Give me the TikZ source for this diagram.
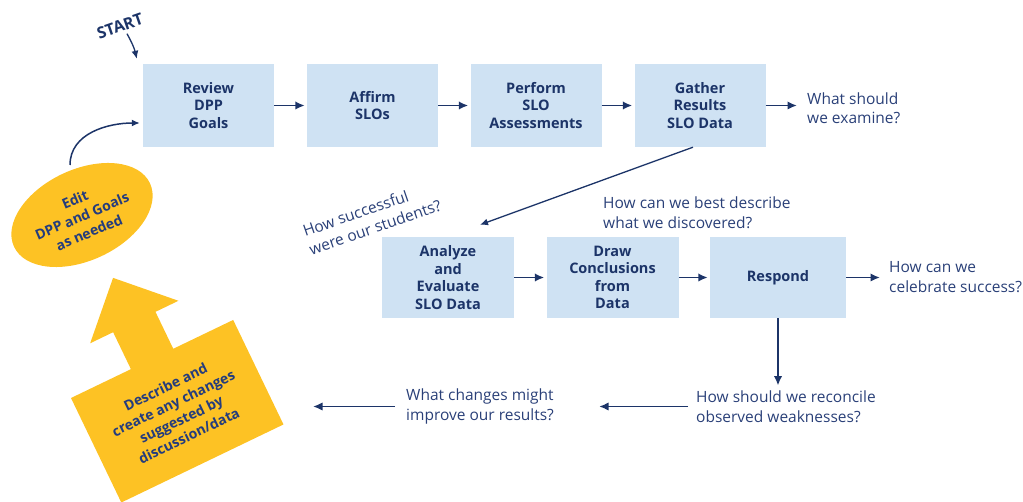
\documentclass[tikz,border=0pt]{standalone}
\usepackage{fontspec}
\setmainfont{Open Sans}
\usetikzlibrary{arrows.meta,calc,shapes.geometric}
\definecolor{navy}{RGB}{28,52,104}
\definecolor{qtext}{RGB}{42,64,120}
\definecolor{ytext}{RGB}{36,60,125}
\definecolor{boxblue}{RGB}{207,226,243}
\definecolor{gold}{RGB}{253,194,36}
\begin{document}
\begin{tikzpicture}[x=1pt,y=1pt,
  stepbox/.style={fill=boxblue, minimum width=131pt, minimum height=83pt, align=center,
    font=\bfseries\fontsize{14.5}{17.5}\selectfont, text=navy, inner sep=0pt},
  question/.style={align=left, font=\fontsize{15.5}{19.5}\selectfont, text=qtext, inner sep=0pt, anchor=west},
  yellowtext/.style={align=center, font=\bfseries\fontsize{14}{18}\selectfont, text=ytext, inner sep=0pt},
  arr/.style={draw=navy, line width=1.9pt, -{Latex[length=9.5pt,width=8.5pt]}},
  thinarr/.style={draw=navy, line width=1.3pt, -{Latex[length=8pt,width=7pt]}},
]
\useasboundingbox (0,0) rectangle (1023,-502);

% top row
\node[stepbox] (b1) at (208.5,-105.5) {Review\\DPP\\Goals};
\node[stepbox] (b2) at (372.5,-105.5) {Affirm\\SLOs};
\node[stepbox] (b3) at (536,-105.5) {Perform\\SLO\\Assessments};
\node[stepbox] (b4) at (700,-105.5) {Gather\\Results\\SLO Data};
\node[question] (q1) at (807,-108) {What should\\we examine?};

% second row
\node[stepbox, minimum height=81pt, minimum width=132pt] (a1) at (448,-277.5) {Analyze\\and\\Evaluate\\SLO Data};
\node[stepbox, minimum height=81pt, minimum width=132pt] (a2) at (612.5,-277.5) {Draw\\Conclusions\\from\\Data};
\node[stepbox, minimum height=81pt, minimum width=136pt] (a3) at (778,-277.5) {Respond};
\node[question] (q2) at (889,-277) {How can we\\celebrate success?};
\node[question] (q3) at (603,-212.5) {How can we best describe\\what we discovered?};
\node[question, anchor=center, rotate=19] (q4) at (372,-218) {How successful\\were our students?};

% bottom row
\node[question] (q5) at (696,-406.5) {How should we reconcile\\observed weaknesses?};
\node[question] (q6) at (406,-406.5) {What changes might\\improve our results?};
\coordinate (endL) at (313,-406.5);

% start
\node[font=\bfseries\fontsize{16}{16}\selectfont, text=navy, rotate=19, inner sep=0pt] (start) at (120,-26) {START};

% yellow ellipse
\node[ellipse, fill=gold, minimum width=150pt, minimum height=91pt, rotate=25, inner sep=0pt] (ell) at (82,-215) {};
\node[yellowtext, rotate=23] (elltext) at (82,-216) {Edit\\DPP and Goals\\as needed};

% yellow arrow box
\begin{scope}[shift={(71,-398)}, rotate=25.7]
\fill[gold] (0,-116) -- (0,0) -- (66.5,0) -- (66.5,41) -- (41,41) -- (90,90) -- (139,41)
  -- (113.5,41) -- (113.5,0) -- (180,0) -- (180,-116) -- cycle;
\node[yellowtext, rotate=25.7] (desc) at (90,-58) {Describe and\\create any changes\\suggested by\\discussion/data};
\end{scope}

% connectors
\draw[arr, shorten >=2pt] (b1.east) -- (b2.west);
\draw[arr, shorten >=2pt] (b2.east) -- (b3.west);
\draw[arr, shorten >=2pt] (b3.east) -- (b4.west);
\draw[arr, shorten >=10pt] (b4.east) -- (b4.east -| q1.west);
\draw[thinarr] ($(b4.south)+(-7,0)$) -- ($(a1.north)+(32,12)$);
\draw[arr, shorten >=2pt] (a1.east) -- (a2.west);
\draw[arr, shorten >=2pt] (a2.east) -- (a3.west);
\draw[arr, shorten >=9pt] (a3.east) -- (a3.east -| q2.west);
\draw[arr, shorten >=5pt] (a3.south) -- (a3.south |- q5.north);
\draw[arr] ([xshift=-8pt]q5.west) -- ([xshift=45pt]q6.east);
\draw[arr] ([xshift=-11pt]q6.west) -- (endL);
\draw[thinarr] ($(start.south)+(5,-2)$) to[bend left=8] ($(b1.north west)+(-6,5)$);
\draw[thinarr, line width=1.5pt] ($(ell.center)+(-12,50)$) to[out=90,in=180] ([shift={(-3,-17.5)}]b1.west);
\end{tikzpicture}
\end{document}
